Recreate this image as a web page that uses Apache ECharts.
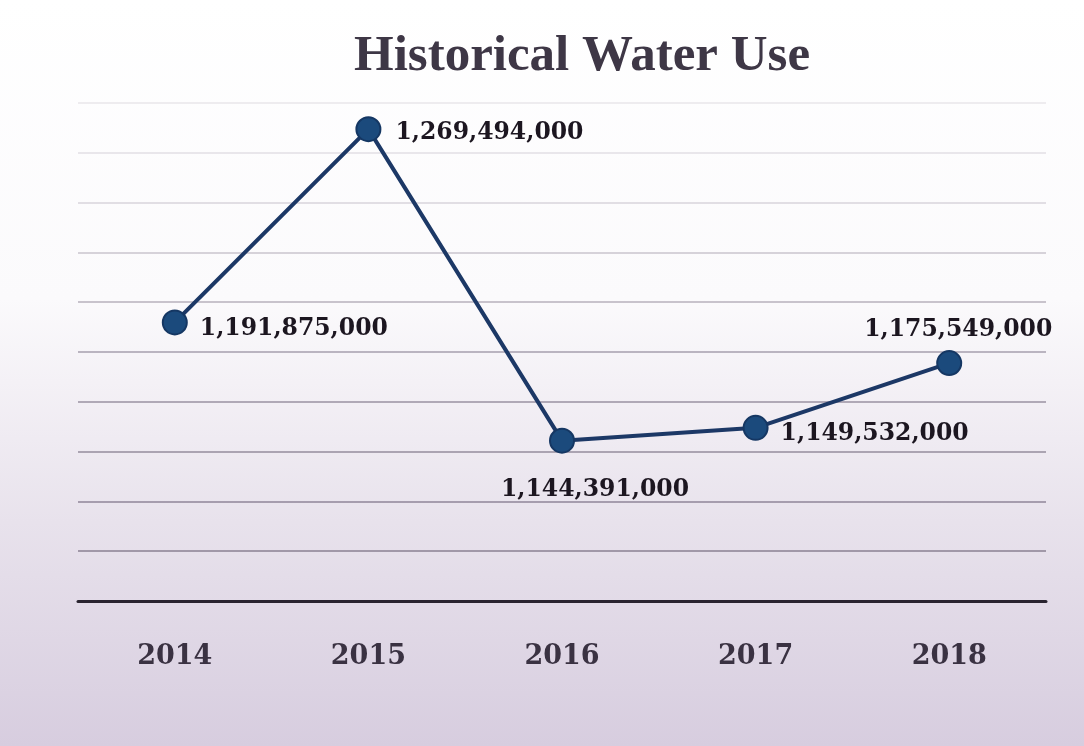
<!DOCTYPE html>
<html>
<head>
<meta charset="utf-8">
<script src="https://cdn.jsdelivr.net/npm/echarts@6/dist/echarts.min.js"></script>
<style>html,body{margin:0;padding:0;}#c{width:1084px;height:746px;}</style>
</head>
<body>
<div id="c"></div>
<script>
const years = ['2014', '2015', '2016', '2017', '2018'];
const waterUse = [1191875000, 1269494000, 1144391000, 1149532000, 1175549000];
const labelPositions = ['right', 'right', 'bottom', 'right', 'top'];
const yMin = 1080000000, yMax = 1280000000, yStep = 20000000;

const fmt = v => v.toLocaleString('en-US');
const labelOffsets = [[0, 6], [2, 4], [33, 12], [0, 6], [9, 4]];

const chart = echarts.init(document.getElementById('c'));
chart.setOption({
  backgroundColor: {
    type: 'linear', x: 0, y: 0, x2: 0, y2: 1,
    colorStops: [
      { offset: 0, color: '#ffffff' },
      { offset: 0.4, color: '#fbfafc' },
      { offset: 0.7, color: '#e8e2ec' },
      { offset: 1, color: '#d7cddf' }
    ]
  },
  title: {
    text: 'Historical Water Use',
    left: 577, top: 26, textAlign: 'center',
    textStyle: { fontFamily: 'Liberation Serif', fontWeight: 'bold', fontSize: 51, color: '#3e3746' }
  },
  grid: { left: 78, right: 38, top: 103, bottom: 145 },
  xAxis: {
    type: 'category', data: years, boundaryGap: true,
    axisLine: { show: true, lineStyle: { color: '#2a2430', width: 3 } },
    axisTick: { show: false },
    axisLabel: { margin: 42, fontFamily: 'DejaVu Serif', fontWeight: 'bold', fontSize: 27, color: '#3a3242' }
  },
  yAxis: {
    type: 'value', min: yMin, max: yMax, interval: yStep,
    axisLine: { show: false }, axisTick: { show: false }, axisLabel: { show: false },
    splitLine: { lineStyle: { width: 1.5, color: ['#2a2430', '#8a8092', '#8f8698', '#958c9d', '#9a92a2', '#a69fae', '#b7b1bd', '#cac5ce', '#d8d4db', '#e2dfe5', '#e8e6ea'] } }
  },
  series: [{
    type: 'line',
    data: waterUse.map((v, i) => ({
      value: v,
      label: { position: labelPositions[i], offset: labelOffsets[i] }
    })),
    symbol: 'circle', symbolSize: 24,
    lineStyle: { color: '#1c3866', width: 4 },
    itemStyle: { color: '#1b4a7c', borderColor: '#153763', borderWidth: 2 },
    label: {
      show: true, distance: 12,
      formatter: p => fmt(p.value),
      fontFamily: 'DejaVu Serif', fontWeight: 'bold', fontSize: 23.5, color: '#1c1620'
    },
    animation: false
  }],
  animation: false
});
</script>
</body>
</html>
